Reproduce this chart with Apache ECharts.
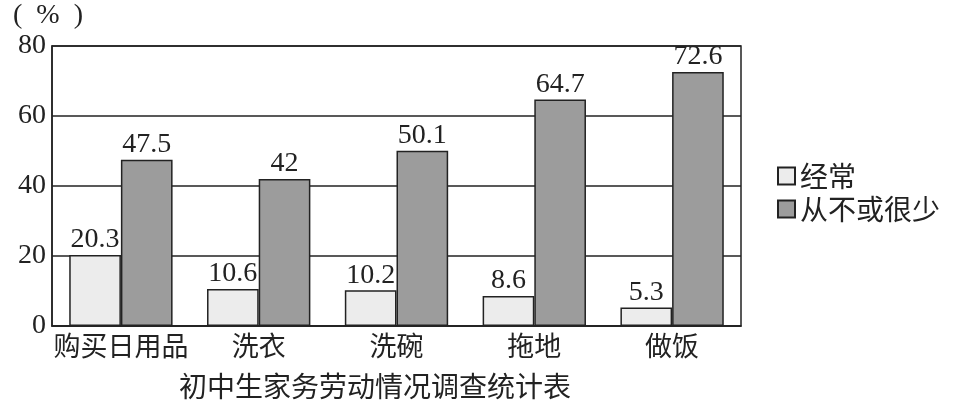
<!DOCTYPE html>
<html><head><meta charset="utf-8">
<script src="https://cdn.jsdelivr.net/npm/echarts@6/dist/echarts.min.js"></script>
<style>html,body{margin:0;padding:0;background:#fff}#c{width:955px;height:408px}</style>
</head><body><div id="c"></div>
<script>
const categories = ['购买日用品', '洗衣', '洗碗', '拖地', '做饭'];
const often = [20.3, 10.6, 10.2, 8.6, 5.3];
const rarely = [47.5, 42, 50.1, 64.7, 72.6];
const seriesNames = ['经常', '从不或很少'];
const yTicks = [0, 20, 40, 60, 80];

const serif = '"Liberation Serif","DejaVu Serif",serif';
const cjk = '"Noto Sans CJK SC",sans-serif';
const chart = echarts.init(document.getElementById('c'));
chart.setOption({
  animation: false,
  backgroundColor: '#fff',
  title: {
    text: '初中生家务劳动情况调查统计表',
    left: 174, top: 367,
    textStyle: { fontFamily: cjk, fontSize: 28, fontWeight: 'normal', color: '#222' }
  },
  legend: {
    orient: 'vertical', left: 772, top: 157, itemGap: 5,
    itemWidth: 17, itemHeight: 17, icon: 'rect',
    textStyle: { fontFamily: cjk, fontSize: 28, color: '#222' },
    data: seriesNames
  },
  graphic: [{
    type: 'text', left: 13, top: 2,
    style: { text: '(  %  )', font: '28px "Liberation Serif", serif', fill: '#222' }
  }],
  grid: { left: 52, right: 214, top: 46, bottom: 82, show: true, borderColor: '#222', borderWidth: 1.5, backgroundColor: 'transparent' },
  xAxis: {
    type: 'category', data: categories,
    axisLine: { lineStyle: { color: '#222', width: 1.5 } },
    axisTick: { show: false },
    axisLabel: { interval: 0, fontFamily: cjk, fontSize: 27, color: '#222', margin: 6 }
  },
  yAxis: {
    type: 'value', min: yTicks[0], max: yTicks[yTicks.length - 1], interval: 20,
    axisLine: { show: true, lineStyle: { color: '#222', width: 1.5 } },
    axisTick: { show: false },
    splitLine: { lineStyle: { color: '#222', width: 1.5 } },
    axisLabel: { fontFamily: serif, fontSize: 28, color: '#222', margin: 6 }
  },
  series: [
    {
      name: seriesNames[0], type: 'bar', data: often, barGap: '0%', barCategoryGap: '25%',
      itemStyle: { color: '#ececec', borderColor: '#222', borderWidth: 1.5 },
      label: { show: true, position: 'top', distance: 1, fontFamily: serif, fontSize: 28, color: '#222' }
    },
    {
      name: seriesNames[1], type: 'bar', data: rarely,
      itemStyle: { color: '#9c9c9c', borderColor: '#222', borderWidth: 1.5 },
      label: { show: true, position: 'top', distance: 1, fontFamily: serif, fontSize: 28, color: '#222' }
    }
  ]
});
</script></body></html>
